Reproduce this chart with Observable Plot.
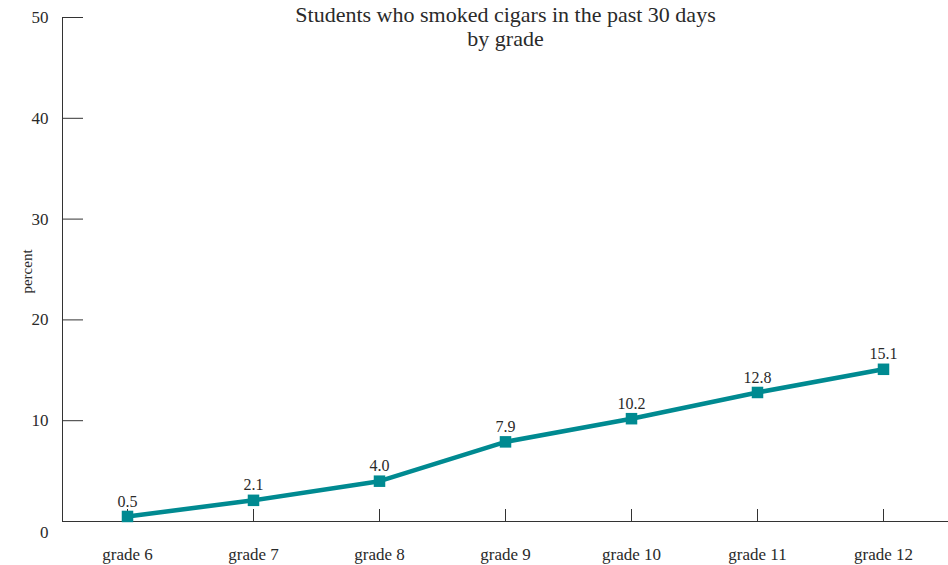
<!DOCTYPE html>
<html>
<head>
<meta charset="utf-8">
<script src="https://cdn.jsdelivr.net/npm/d3@7"></script>
<script src="https://cdn.jsdelivr.net/npm/@observablehq/plot@0.6"></script>
<style>
  html, body { margin: 0; padding: 0; background: #fff; }
  svg { display: block; }
</style>
</head>
<body>
<div id="chart"></div>
<script>
const grades = ["grade 6", "grade 7", "grade 8", "grade 9", "grade 10", "grade 11", "grade 12"];
const percents = [0.5, 2.1, 4.0, 7.9, 10.2, 12.8, 15.1];
const yTicks = [0, 10, 20, 30, 40, 50];
const titleLines = ["Students who smoked cigars in the past 30 days", "by grade"];
const yLabel = "percent";

const data = grades.map((g, i) => ({grade: g, value: percents[i]}));
const teal = "#008a91";
const ink = "#2a2a2a";
const font = "Liberation Serif, DejaVu Serif, serif";

const chart = Plot.plot({
  width: 948,
  height: 565,
  marginLeft: 62,
  marginRight: 0,
  marginTop: 17,
  marginBottom: 44,
  style: {fontFamily: font, fontSize: "16px", color: ink, background: "#fff"},
  x: {type: "point", domain: grades, padding: 0.5},
  y: {domain: [0, 50]},
  marks: [
    // axis lines
    Plot.frame({anchor: "left", stroke: "#333"}),
    Plot.ruleY([0], {stroke: "#333"}),
    // inward y ticks
    Plot.ruleY(yTicks.slice(1), {y: d => d, stroke: "#333", insetRight: 948 - 62 - 21}),
    // upward x ticks
    Plot.ruleX(grades, {x: d => d, stroke: "#333", insetTop: 521 - 17 - 12}),
    Plot.axisY(yTicks.slice(1), {tickSize: 0, tickPadding: 14, fontSize: 17, label: null}),
    Plot.text([yTicks[0]], {y: d => d, frameAnchor: "left", textAnchor: "end", dx: -14, dy: 11, fontSize: 17, fill: ink}),
    Plot.axisX({tickSize: 0, tickPadding: 26, fontSize: 17, label: null}),
    Plot.text([yLabel], {frameAnchor: "left", textAnchor: "middle", lineAnchor: "middle", rotate: -90, dx: -35, dy: 2, fontSize: 15, fill: ink}),
    // title
    Plot.text([titleLines.join("\n")], {frameAnchor: "top", lineAnchor: "middle", dy: 9, fontSize: 22, lineHeight: 1.1, fill: ink}),
    // data
    Plot.line(data, {x: "grade", y: "value", stroke: teal, strokeWidth: 4.5}),
    Plot.dot(data, {x: "grade", y: "value", symbol: "square", r: 6.5, fill: teal, stroke: "none"}),
    Plot.text(data, {x: "grade", y: "value", text: d => d.value.toFixed(1), dy: -15, fontSize: 16, fill: ink})
  ]
});
document.getElementById("chart").appendChild(chart);
</script>
</body>
</html>
